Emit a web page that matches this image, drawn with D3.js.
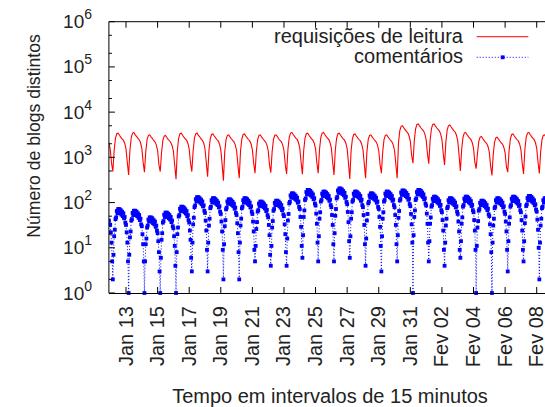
<!DOCTYPE html>
<html>
<head>
<meta charset="utf-8">
<script src="https://cdn.jsdelivr.net/npm/d3@7/dist/d3.min.js"></script>
<style>
  body { margin: 0; background: #fff; }
  text { font-family: "Liberation Sans", Arial, Helvetica, sans-serif; fill: #222; }
</style>
</head>
<body>
<div id="chart"></div>
<script>
"use strict"

let seriesStart = new Date(2008, 0, 11, 22, 0)
let seriesEnd = new Date(2008, 1, 9, 0, 0)

/* requisições de leitura, one row per day (0h,2h,...,22h) */
let readRequests = [2100,
  1530, 750, 485, 1440, 2680, 3330, 3430, 3090, 2810, 2570, 2400, 2060,   // Jan 12
  1540, 760, 410, 1490, 2770, 3440, 3550, 3150, 2910, 2660, 2450, 2130,   // Jan 13
  1600, 780, 470, 1320, 2460, 3060, 3150, 2840, 2640, 2360, 2200, 1890,
  1420, 690, 485, 1280, 2380, 2960, 3050, 2750, 2500, 2330, 2140, 1830,
  1370, 670, 330, 1440, 2680, 3330, 3430, 3090, 2810, 2570, 2400, 2060,
  1540, 755, 485, 1400, 2700, 3300, 3450, 3050, 2850, 2550, 2380, 2080,
  1550, 760, 375, 1390, 2570, 3200, 3300, 2970, 2720, 2480, 2310, 1980,
  1480, 720, 306, 1320, 2460, 3060, 3150, 2840, 2580, 2380, 2200, 1890,
  1420, 690, 346, 1390, 2570, 3200, 3300, 2970, 2700, 2480, 2310, 1980,   // Jan 20
  1490, 730, 447, 1320, 2460, 3060, 3150, 2840, 2580, 2360, 2200, 1890,
  1420, 690, 460, 1320, 2460, 3080, 3150, 2880, 2580, 2360, 2200, 1890,
  1420, 690, 428, 1490, 2770, 3440, 3550, 3200, 2910, 2660, 2490, 2130,
  1600, 780, 425, 1440, 2680, 3330, 3430, 3090, 2810, 2570, 2400, 2060,
  1540, 755, 447, 1490, 2770, 3440, 3550, 3200, 2910, 2660, 2490, 2130,
  1600, 780, 410, 1440, 2680, 3330, 3430, 3090, 2810, 2570, 2400, 2060,
  1540, 755, 333, 1390, 2570, 3200, 3300, 2970, 2700, 2480, 2310, 1980,
  1490, 730, 346, 1320, 2460, 3060, 3150, 2840, 2580, 2360, 2200, 1890,
  1420, 690, 447, 1320, 2460, 3060, 3150, 2840, 2580, 2360, 2200, 1890,
  1420, 690, 346, 2100, 3900, 4850, 5000, 4500, 4100, 3750, 3500, 3000,   // Jan 30
  2250, 1100, 745, 2310, 4290, 5340, 5500, 4950, 4510, 4130, 3850, 3300,
  2480, 1210, 720, 2310, 4290, 5340, 5500, 4950, 4510, 4130, 3850, 3300,  // Fev 01
  2480, 1210, 680, 2180, 4060, 5040, 5200, 4680, 4260, 3900, 3640, 3120,
  2340, 1140, 500, 1490, 2770, 3440, 3550, 3200, 2910, 2660, 2490, 2130,
  1600, 780, 560, 1220, 2260, 2810, 2900, 2610, 2380, 2180, 2030, 1740,
  1300, 640, 400, 1180, 2180, 2720, 2800, 2520, 2300, 2100, 1960, 1680,
  1260, 620, 470, 1390, 2570, 3200, 3300, 2970, 2700, 2480, 2310, 1980,
  1490, 730, 430, 1490, 2770, 3440, 3550, 3200, 2910, 2660, 2490, 2130,
  1600, 780, 440, 1320, 2460, 3060, 3150, 2840, 2580, 2360, 2200, 1890,   // Fev 08
  1420]

/* comentários, one row per day (0h..23h) */
let comments = [40, 33,
  32, 22, 13, 5, 2, 7, 18, 25, 43, 47, 65, 58, 72, 59, 72, 58, 68, 54, 63, 50, 58, 45, 48, 36,   // Jan 12
  32, 22, 13, 5, 1, 7, 17, 23, 40, 43, 59, 53, 66, 54, 66, 53, 63, 50, 58, 46, 53, 41, 44, 33,
  30, 20, 12, 5, 1, 5, 12, 16, 28, 31, 42, 38, 47, 39, 47, 38, 45, 35, 41, 33, 38, 29, 31, 24,
  21, 14, 8, 3, 1, 6, 15, 21, 36, 39, 54, 48, 60, 49, 60, 48, 57, 45, 53, 42, 48, 37, 40, 30,
  27, 18, 11, 4, 1, 8, 20, 28, 49, 53, 73, 65, 81, 66, 81, 65, 77, 61, 71, 57, 65, 50, 53, 41,
  36, 24, 15, 6, 3, 13, 33, 46, 79, 86, 119, 106, 132, 108, 132, 106, 125, 99, 116, 92, 106, 82, 87, 66,
  59, 40, 24, 9, 3, 13, 31, 44, 75, 81, 113, 100, 125, 103, 125, 100, 119, 94, 110, 88, 100, 78, 83, 63,
  56, 38, 23, 9, 2, 12, 30, 41, 71, 77, 106, 94, 118, 97, 118, 94, 112, 89, 104, 83, 94, 73, 78, 59,
  53, 35, 21, 8, 2, 13, 31, 44, 75, 81, 113, 100, 125, 103, 125, 100, 119, 94, 110, 88, 100, 78, 83, 63,   // Jan 20
  56, 38, 23, 9, 5, 11, 26, 37, 63, 68, 95, 84, 105, 86, 105, 84, 100, 79, 92, 74, 84, 65, 69, 53,
  47, 32, 19, 7, 4, 11, 28, 39, 66, 72, 99, 88, 110, 90, 110, 88, 105, 83, 97, 77, 88, 68, 73, 55,
  50, 33, 20, 8, 4, 16, 40, 56, 96, 104, 144, 128, 160, 131, 160, 128, 152, 120, 141, 112, 128, 99, 106, 80,
  72, 48, 29, 11, 6, 19, 48, 67, 114, 124, 171, 152, 190, 156, 190, 152, 181, 143, 167, 133, 152, 118, 125, 95,
  86, 57, 34, 13, 5, 18, 44, 61, 105, 114, 158, 140, 175, 144, 175, 140, 166, 131, 154, 123, 140, 109, 116, 88,
  79, 53, 32, 12, 5, 21, 51, 72, 123, 133, 185, 164, 205, 168, 205, 164, 195, 154, 180, 144, 164, 127, 135, 103,
  92, 62, 37, 14, 6, 18, 44, 61, 105, 114, 158, 140, 175, 144, 175, 140, 166, 131, 154, 123, 140, 109, 116, 88,
  79, 53, 32, 12, 4, 16, 40, 56, 96, 104, 144, 128, 160, 131, 160, 128, 152, 120, 141, 112, 128, 99, 106, 80,
  72, 48, 29, 11, 3, 18, 44, 61, 105, 114, 158, 140, 175, 144, 175, 140, 166, 131, 154, 123, 140, 109, 116, 88,
  79, 53, 32, 12, 5, 19, 46, 65, 111, 120, 167, 148, 185, 152, 185, 148, 176, 139, 163, 130, 148, 115, 122, 93,   // Jan 30
  83, 56, 33, 13, 1, 19, 48, 67, 114, 124, 171, 152, 190, 156, 190, 152, 181, 143, 167, 133, 152, 118, 125, 95,
  86, 57, 34, 13, 5, 14, 34, 47, 81, 88, 122, 108, 135, 111, 135, 108, 128, 101, 119, 95, 108, 84, 89, 68,   // Fev 01
  61, 41, 24, 9, 4, 13, 31, 44, 75, 81, 113, 100, 125, 103, 125, 100, 119, 94, 110, 88, 100, 78, 83, 63,
  56, 38, 23, 9, 6, 14, 34, 47, 81, 88, 122, 108, 135, 111, 135, 108, 128, 101, 119, 95, 108, 84, 89, 68,
  61, 41, 24, 9, 1, 11, 28, 39, 66, 72, 99, 88, 110, 90, 110, 88, 105, 83, 97, 77, 88, 68, 73, 55,
  50, 33, 20, 8, 1, 13, 31, 44, 75, 81, 113, 100, 125, 103, 125, 100, 119, 94, 110, 88, 100, 78, 83, 63,
  56, 38, 23, 9, 3, 14, 34, 47, 81, 88, 122, 108, 135, 111, 135, 108, 128, 101, 119, 95, 108, 84, 89, 68,
  61, 41, 24, 9, 5, 14, 35, 49, 84, 91, 126, 112, 140, 115, 140, 112, 133, 105, 123, 98, 112, 87, 92, 70,
  63, 42, 25, 10, 2, 13, 31, 44, 75, 81, 113, 100, 125, 103, 125, 100, 119, 94, 110, 88, 100, 78, 83, 63,   // Fev 08
  56]

let xTickLabels = ["Jan 13", "Jan 15", "Jan 17", "Jan 19", "Jan 21", "Jan 23", "Jan 25",
                   "Jan 27", "Jan 29", "Jan 31", "Fev 02", "Fev 04", "Fev 06", "Fev 08"]
let yExponents = [0, 1, 2, 3, 4, 5, 6]
let legendNames = ["requisições de leitura", "comentários"]

let width = 545, height = 407
let plotLeft = 108.9, plotRight = 552.5, plotTop = 21.7, plotBottom = 293
let markSize = 3.8

let svg = d3.select("#chart").append("svg")
    .attr("width", width)
    .attr("height", height)

let x = d3.scaleTime().domain([seriesStart, seriesEnd]).range([plotLeft, plotRight])
let y = d3.scaleLog().domain([1, 1e6]).range([plotBottom, plotTop])

let readPoints = readRequests.map((v, i) => [d3.timeHour.offset(seriesStart, 2 * i), v])
let commentPoints = comments.map((v, i) => [d3.timeHour.offset(seriesStart, i), v])

svg.append("clipPath").attr("id", "plotclip")
  .append("rect")
    .attr("x", plotLeft).attr("y", plotTop)
    .attr("width", plotRight - plotLeft).attr("height", plotBottom - plotTop + 3)

let plot = svg.append("g").attr("clip-path", "url(#plotclip)")

let line = d3.line().x(d => x(d[0])).y(d => y(d[1]))

/* comments: dotted line + small squares */
plot.append("path")
    .attr("d", line(commentPoints))
    .attr("fill", "none")
    .attr("stroke", "#0000ff")
    .attr("stroke-width", 1)
    .attr("stroke-dasharray", "1,2")

plot.selectAll(".pt").data(commentPoints).enter().append("rect")
    .attr("class", "pt")
    .attr("x", d => x(d[0]) - markSize / 2)
    .attr("y", d => y(d[1]) - markSize / 2)
    .attr("width", markSize)
    .attr("height", markSize)
    .attr("fill", "#0000ff")

/* read requests: red line */
plot.append("path")
    .attr("d", line(readPoints))
    .attr("fill", "none")
    .attr("stroke", "#ff0000")
    .attr("stroke-width", 1.1)

/* frame (right side is cut off by the picture edge) */
svg.append("line").attr("x1", plotLeft).attr("x2", width).attr("y1", plotTop).attr("y2", plotTop)
    .attr("stroke", "#000")
svg.append("line").attr("x1", plotLeft).attr("x2", width).attr("y1", plotBottom + 0.5).attr("y2", plotBottom + 0.5)
    .attr("stroke", "#000")
svg.append("line").attr("x1", plotLeft).attr("x2", plotLeft).attr("y1", plotTop).attr("y2", plotBottom)
    .attr("stroke", "#000")

/* x ticks, every 2 days, mirrored on top */
let xTickDates = xTickLabels.map((l, i) => d3.timeDay.offset(new Date(2008, 0, 13), 2 * i))

xTickDates.forEach((d, i) => {
  let tx = x(d)
  svg.append("line").attr("x1", tx).attr("x2", tx).attr("y1", plotBottom).attr("y2", plotBottom - 6)
      .attr("stroke", "#000")
  svg.append("line").attr("x1", tx).attr("x2", tx).attr("y1", plotTop).attr("y2", plotTop + 6)
      .attr("stroke", "#000")
  svg.append("text")
      .attr("transform", "translate(" + (tx + 6.5) + "," + (plotBottom + 13) + ") rotate(-90)")
      .attr("text-anchor", "end")
      .attr("font-size", 20)
      .text(xTickLabels[i])
})

/* y ticks: decades plus 2x and 5x minors */
yExponents.forEach(e => {
  let ty = y(Math.pow(10, e))
  svg.append("line").attr("x1", plotLeft).attr("x2", plotLeft + 6).attr("y1", ty).attr("y2", ty)
      .attr("stroke", "#000")
  if (e < 6) {
    [2, 5].forEach(m => {
      let my = y(m * Math.pow(10, e))
      svg.append("line").attr("x1", plotLeft).attr("x2", plotLeft + 3).attr("y1", my).attr("y2", my)
          .attr("stroke", "#000")
    })
  }
  let lbl = svg.append("text")
      .attr("x", 92)
      .attr("y", ty + 6.5)
      .attr("text-anchor", "end")
      .attr("font-size", 19)
  lbl.append("tspan").text("10")
  lbl.append("tspan").attr("dy", -9).attr("font-size", 14).text(e)
})

/* axis titles */
svg.append("text")
    .attr("x", 330)
    .attr("y", 403)
    .attr("text-anchor", "middle")
    .attr("font-size", 20)
    .text("Tempo em intervalos de 15 minutos")

svg.append("text")
    .attr("transform", "translate(40,136) rotate(-90)")
    .attr("text-anchor", "middle")
    .attr("font-size", 17.6)
    .text("Número de blogs distintos")

/* legend */
svg.append("text").attr("x", 463).attr("y", 43).attr("text-anchor", "end")
    .attr("font-size", 20).text(legendNames[0])
svg.append("line").attr("x1", 476.7).attr("x2", 528.3).attr("y1", 36.7).attr("y2", 36.7)
    .attr("stroke", "#ff0000")

svg.append("text").attr("x", 463).attr("y", 63).attr("text-anchor", "end")
    .attr("font-size", 20).text(legendNames[1])
svg.append("line").attr("x1", 476.7).attr("x2", 528.3).attr("y1", 57.3).attr("y2", 57.3)
    .attr("stroke", "#0000ff")
    .attr("stroke-dasharray", "1,2")
svg.append("rect").attr("x", 502.7 - markSize / 2).attr("y", 57.3 - markSize / 2)
    .attr("width", markSize).attr("height", markSize)
    .attr("fill", "#0000ff")
</script>
</body>
</html>
